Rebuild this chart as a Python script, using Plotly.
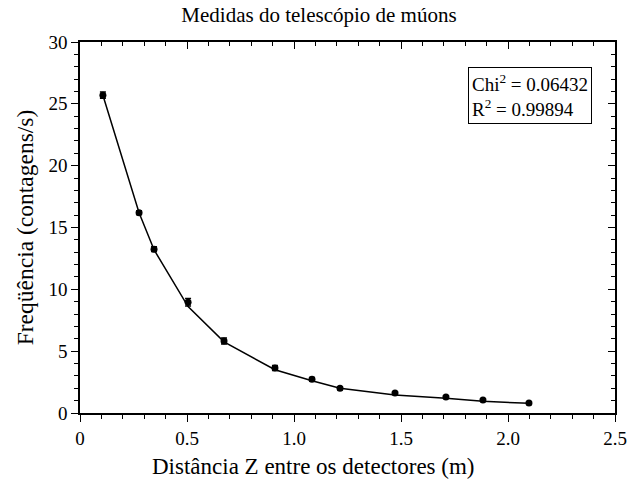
import plotly.graph_objects as go

distance_m = [0.107, 0.276, 0.346, 0.505, 0.673, 0.911, 1.084, 1.215, 1.472, 1.710, 1.883, 2.098]
frequency = [25.7, 16.2, 13.25, 8.95, 5.82, 3.64, 2.72, 2.0, 1.62, 1.3, 1.05, 0.8]
freq_error = [0.25, 0.15, 0.2, 0.3, 0.25, 0.2, 0.15, 0.12, 0.1, 0.1, 0.08, 0.07]
fit_values = [25.7, 16.2, 13.2, 8.6, 5.75, 3.5, 2.61, 2.0, 1.45, 1.2, 0.95, 0.78]

x_tick_values = [0, 0.5, 1.0, 1.5, 2.0, 2.5]
x_tick_labels = ["0", "0.5", "1.0", "1.5", "2.0", "2.5"]
y_tick_values = [0, 5, 10, 15, 20, 25, 30]

title_text = "Medidas do telescópio de múons"
x_title = "Distância Z entre os detectores (m)"
y_title = "Freqüência (contagens/s)"
stats_text = "Chi<sup>2</sup> = 0.06432<br>R<sup>2</sup> = 0.99894"

FONT = "Times New Roman"

fig = go.Figure()
fig.add_trace(go.Scatter(x=distance_m, y=fit_values, mode="lines",
                         line=dict(color="black", width=1.5), showlegend=False,
                         hoverinfo="skip"))
fig.add_trace(go.Scatter(x=distance_m, y=frequency, mode="markers",
                         marker=dict(color="black", size=7, symbol="circle"),
                         error_y=dict(type="data", array=freq_error, color="black",
                                      thickness=1.5, width=3),
                         showlegend=False))
# dummy trace for mirror axes
fig.add_trace(go.Scatter(x=[None], y=[None], xaxis="x2", yaxis="y2", showlegend=False))

common = dict(showgrid=False, zeroline=False, linecolor="black", linewidth=1.5,
              tickcolor="black", tickwidth=1.2, ticklen=7, automargin=False)

fig.update_layout(
    width=627, height=481,
    margin=dict(l=80, r=12, t=42, b=68, autoexpand=False),
    paper_bgcolor="white", plot_bgcolor="white",
    font=dict(family=FONT, color="black", size=19),
    title=dict(text=title_text, x=319 / 627, xanchor="center", xref="container",
               yref="container", y=1 - 15 / 481, yanchor="middle",
               font=dict(family=FONT, size=21, color="black")),
    xaxis=dict(range=[0, 2.5], tickvals=x_tick_values, ticktext=x_tick_labels,
               ticks="outside",
               minor=dict(dtick=0.1, tick0=0, ticks="outside", ticklen=4, tickcolor="black", tickwidth=1.2),
               tickfont=dict(family=FONT, size=19), **common),
    yaxis=dict(range=[0, 30], tickvals=y_tick_values, ticks="outside",
               minor=dict(dtick=1, tick0=0, ticks="outside", ticklen=4, tickcolor="black", tickwidth=1.2),
               title=dict(text=y_title, font=dict(family=FONT, size=23.5), standoff=8),
               tickfont=dict(family=FONT, size=19), **common),
    xaxis2=dict(range=[0, 2.5], overlaying="x", side="top", anchor="y2", dtick=0.5, tick0=0,
                ticks="inside", showticklabels=False,
                minor=dict(dtick=0.1, tick0=0, ticks="inside", ticklen=4, tickcolor="black", tickwidth=1.2),
                **common),
    yaxis2=dict(range=[0, 30], overlaying="y", side="right", anchor="x2", dtick=5, tick0=0,
                ticks="inside", showticklabels=False,
                minor=dict(dtick=1, tick0=0, ticks="inside", ticklen=4, tickcolor="black", tickwidth=1.2),
                **common),
    annotations=[
        dict(text=stats_text, xref="paper", yref="paper", x=0.957, y=0.9326,
             xanchor="right", yanchor="top", align="left", showarrow=False,
             bordercolor="black", borderwidth=1, borderpad=3, bgcolor="white",
             font=dict(family=FONT, size=19, color="black")),
        dict(text=x_title, xref="paper", yref="paper", x=(313.5 - 80) / 535,
             y=(413 - 466) / 371, xanchor="center", yanchor="middle", showarrow=False,
             font=dict(family=FONT, size=23, color="black")),
    ],
)

fig.write_html("out.html", config={"displayModeBar": False},
               post_script="document.body.style.margin='0';")
